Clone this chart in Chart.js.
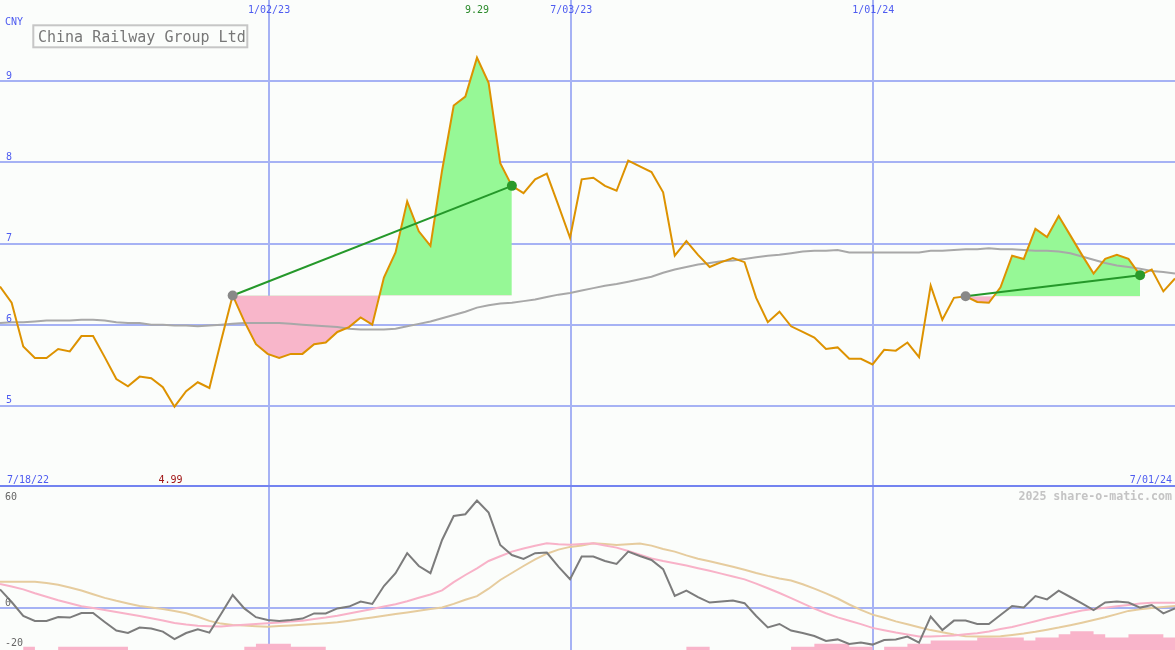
<!DOCTYPE html>
<html><head><meta charset="utf-8">
<script src="https://cdn.jsdelivr.net/npm/chart.js@4.4.1/dist/chart.umd.min.js"></script>
<style>
html,body{margin:0;padding:0;background:#fbfdfb;}
#wrap{position:relative;width:1175px;height:650px;overflow:hidden;background:#fbfdfb;}
#c1{position:absolute;left:0;top:0;}
#c2{position:absolute;left:0;top:487px;}
</style></head><body>
<div id="wrap"><canvas id="c1" width="1175" height="487"></canvas><canvas id="c2" width="1175" height="163"></canvas></div>
<script>
// ---------- data ----------
const titleText = 'China Railway Group Ltd';
const currency = 'CNY';
const startLabel = '7/18/22';
const endLabel = '7/01/24';
const watermark = '2025 share-o-matic.com';
const dateTickLabels = ['1/02/23', '7/03/23', '1/01/24'];
const dateTickWeeks = [23.13, 49.1, 75.06];
const priceTicks = [5, 6, 7, 8, 9];
const oscTicks = [60, 0, -20];

// weekly closes (CNY)
const price = [6.47,6.27,5.73,5.59,5.59,5.70,5.67,5.86,5.86,5.60,
  5.33,5.24,5.36,5.34,5.23,4.99,5.18,5.29,5.22,5.80,
  6.36,6.04,5.76,5.64,5.59,5.64,5.64,5.76,5.78,5.91,
  5.97,6.09,6.00,6.58,6.89,7.52,7.15,6.97,7.90,8.70,
  8.81,9.29,8.98,7.99,7.71,7.62,7.79,7.86,7.47,7.07,
  7.79,7.81,7.71,7.65,8.02,7.95,7.88,7.63,6.85,7.03,
  6.86,6.71,6.77,6.82,6.77,6.33,6.03,6.16,5.98,5.91,
  5.84,5.70,5.72,5.58,5.58,5.51,5.69,5.68,5.78,5.60,
  6.48,6.06,6.33,6.35,6.28,6.27,6.46,6.85,6.81,7.18,
  7.08,7.34,7.10,6.86,6.63,6.81,6.86,6.81,6.61,6.68,
  6.41,6.57];

// moving average (grey)
const movingAvg = [6.02,6.03,6.03,6.04,6.05,6.05,6.05,6.06,6.06,6.05,
  6.03,6.02,6.02,6.00,6.00,5.99,5.99,5.98,5.99,6.00,
  6.01,6.02,6.02,6.02,6.02,6.01,6.00,5.99,5.98,5.97,
  5.95,5.94,5.94,5.94,5.95,5.98,6.01,6.04,6.08,6.12,
  6.16,6.21,6.24,6.26,6.27,6.29,6.31,6.34,6.37,6.39,
  6.42,6.45,6.48,6.50,6.53,6.56,6.59,6.64,6.68,6.71,
  6.74,6.76,6.78,6.79,6.81,6.83,6.85,6.86,6.88,6.90,
  6.91,6.91,6.92,6.89,6.89,6.89,6.89,6.89,6.89,6.89,
  6.91,6.91,6.92,6.93,6.93,6.94,6.93,6.93,6.92,6.91,
  6.91,6.90,6.88,6.84,6.80,6.76,6.73,6.71,6.69,6.66,
  6.65,6.63];

// lower panel oscillator (dark grey)
const oscillator = [9.3,3,-4,-6.5,-6.5,-4.5,-4.8,-2.5,-2.5,-7,
  -11.3,-12.5,-9.8,-10.3,-11.8,-15.6,-12.5,-10.6,-12.3,-3,
  6.5,-0.2,-4.6,-6,-6.5,-6,-5.3,-2.7,-2.7,-0.2,
  0.7,3.2,2,11,17.4,27.4,21,17.4,34,46,
  46.9,53.7,47.7,31.5,26.5,24.5,27.4,27.7,20.7,14.4,
  25.7,25.7,23.5,22,28.2,26,24,19.4,6,8.7,
  5.4,2.7,3.2,3.7,2.4,-4,-9.7,-8,-11.3,-12.5,
  -14,-16.5,-15.7,-18,-17.3,-18.3,-16,-15.7,-14.3,-17.3,
  -4.3,-11,-6.3,-6.3,-8,-8,-3.5,1,0.3,6,
  4.3,8.7,5.5,2.3,-1,2.8,3.2,2.7,0.2,1.5,
  -2.7,-0.2];

// fast signal (pink)
const oscFast = [12,10.75,9.3,7.35,5.6,3.9,2.35,0.9,-0.05,-1.05,
  -2.05,-2.95,-4,-5.1,-6.3,-7.45,-8.3,-8.9,-9.15,-9.3,
  -8.8,-8.35,-8,-7.65,-7.25,-6.8,-6.35,-5.55,-4.8,-3.9,
  -2.75,-1.6,-0.45,0.75,1.9,3.35,5.1,6.75,8.8,12.9,
  16.5,19.85,23.5,25.85,28.2,29.75,31.1,32.35,31.85,31.6,
  32,32.35,31.3,30.2,28.5,26.6,24.75,23.45,22.35,21.2,
  19.9,18.6,17.2,15.75,14.3,12.2,9.85,7.5,4.9,2.3,
  -0.3,-2.65,-4.7,-6.4,-8.05,-9.95,-11.1,-12.25,-13.25,-14.25,
  -14.25,-14.05,-13.7,-13.15,-12.65,-11.7,-10.55,-9.45,-8.05,-6.6,
  -5.15,-3.85,-2.5,-1.25,-0.55,0.15,0.85,1.55,2.25,2.65,
  2.65,2.65];

// slow signal (tan)
const oscSlow = [13.15,13.15,13.15,13.15,12.45,11.65,10.25,8.75,6.85,5.05,
  3.6,2.3,1.05,0.3,-0.55,-1.45,-2.65,-4.4,-6.45,-7.8,
  -8.5,-8.75,-9.1,-9.35,-9.05,-8.75,-8.4,-8,-7.6,-7.1,
  -6.35,-5.5,-4.7,-3.85,-3,-2.2,-1.35,-0.55,0.25,2.05,
  4.15,5.95,9.65,14,17.5,21,24.35,27.15,29.2,30.55,
  31.25,32.35,31.95,31.5,31.9,32.25,31.2,29.5,28.2,26.3,
  24.65,23.35,22.05,20.65,19.1,17.5,16.05,14.8,13.75,11.85,
  9.7,7.35,4.75,1.75,-0.9,-3.3,-4.85,-6.7,-8.1,-9.6,
  -11.05,-12.15,-13.25,-14.15,-14.2,-14.3,-14.15,-13.45,-12.75,-11.9,
  -10.85,-9.8,-8.6,-7.35,-6.05,-4.65,-3.05,-1.45,-0.6,-0.05,
  0.45,0.95];

// volume blocks (relative units)
const volume = [0,0,1,0,0,1,1,1,1,1,
  1,0,0,0,0,0,0,0,0,0,
  0,1,2,2,2,1,1,1,0,0,
  0,0,0,0,0,0,0,0,0,0,
  0,0,0,0,0,0,0,0,0,0,
  0,0,0,0,0,0,0,0,0,1,
  1,0,0,0,0,0,0,0,1,1,
  2,2,2,1,1,0,1,1,2,2,
  3,3,3,3,4,4,4,4,3,4,
  4,5,6,6,5,4,4,5,5,5,
  4,4];

// trend segments (week index from / to)
const trendFrom = [20, 83];
const trendTo = [44, 98];

// ---------- helpers ----------
const BG = '#fbfdfb';
const GRID = '#a6b2f4';
const BLUE_TXT = '#4e5cf0';
const MONO = '"DejaVu Sans Mono", "Liberation Mono", monospace';
const pts = arr => arr.map((v, i) => ({x: i, y: v}));
const seg = (from, to) => price.map((v, i) => ({x: i, y: (i >= from && i <= to) ? v : null}));

const xScale = {
  type: 'linear', min: 0, max: price.length - 1,
  afterBuildTicks: s => { s.ticks = dateTickWeeks.map(v => ({value: v})); },
  grid: {color: GRID, lineWidth: 2, drawTicks: false},
  ticks: {display: false}, border: {display: false}
};

const topLabels = {
  id: 'topLabels',
  afterDraw(chart) {
    const ctx = chart.ctx, xs = chart.scales.x, ys = chart.scales.y;
    ctx.save();
    // separator
    ctx.strokeStyle = '#7383f0'; ctx.lineWidth = 2;
    ctx.beginPath(); ctx.moveTo(0, chart.chartArea.bottom - 1); ctx.lineTo(chart.width, chart.chartArea.bottom - 1); ctx.stroke();
    ctx.font = '10px ' + MONO;
    ctx.textBaseline = 'alphabetic';
    ctx.fillStyle = BLUE_TXT; ctx.textAlign = 'left';
    ctx.fillText(currency, 5, 24.5);
    priceTicks.forEach(v => ctx.fillText(String(v), 6, ys.getPixelForValue(v) - 2.5));
    ctx.textAlign = 'center';
    dateTickLabels.forEach((t, i) => ctx.fillText(t, xs.getPixelForValue(dateTickWeeks[i]), 13));
    ctx.textAlign = 'left'; ctx.fillText(startLabel, 7, 483);
    ctx.textAlign = 'right'; ctx.fillText(endLabel, 1172, 483);
    // max / min
    const maxV = Math.max(...price), minV = Math.min(...price);
    ctx.textAlign = 'center';
    ctx.fillStyle = '#2a8a2a';
    ctx.fillText(maxV.toFixed(2), xs.getPixelForValue(price.indexOf(maxV)), 13);
    ctx.fillStyle = '#a01414';
    ctx.fillText(minV.toFixed(2), xs.getPixelForValue(price.indexOf(minV)) - 4, 483);
    // title box
    ctx.fillStyle = BG; ctx.fillRect(33, 25, 214, 22);
    ctx.strokeStyle = '#c6c6c6'; ctx.lineWidth = 2;
    ctx.strokeRect(33.3, 25.3, 214, 22);
    ctx.fillStyle = '#777777'; ctx.textAlign = 'left';
    ctx.font = '15px ' + MONO;
    ctx.fillText(titleText, 38, 41.5);
    ctx.restore();
  }
};

const bottomLabels = {
  id: 'bottomLabels',
  afterDraw(chart) {
    const ctx = chart.ctx, ys = chart.scales.y;
    ctx.save();
    ctx.font = '10px ' + MONO; ctx.fillStyle = '#666666'; ctx.textAlign = 'left';
    oscTicks.forEach(v => {
      const p = ys.getPixelForValue(v);
      ctx.fillText(String(v), 5, v === oscTicks[0] ? p + 12 : p - 2);
    });
    ctx.font = 'bold 11.6px ' + MONO; ctx.fillStyle = '#c4c4c4'; ctx.textAlign = 'right';
    ctx.fillText(watermark, 1172, 13);
    ctx.restore();
  }
};

const common = {
  responsive: false, animation: false, events: [],
  layout: {padding: 0, autoPadding: false},
  plugins: {legend: {display: false}, tooltip: {enabled: false}},
  elements: {point: {radius: 0}, line: {tension: 0}}
};

const trendSets = [];
trendFrom.forEach((f, i) => {
  const t = trendTo[i];
  trendSets.push({
    data: [{x: f, y: price[f]}, {x: t, y: price[t]}],
    borderColor: '#25982a', borderWidth: 2,
    pointRadius: 5, pointBorderWidth: 0,
    pointBackgroundColor: ['#888888', '#2a9a2a'], order: 0
  });
  trendSets.push({
    data: seg(f, t), borderColor: 'rgba(0,0,0,0)', borderWidth: 1, pointRadius: 0,
    spanGaps: false,
    fill: {target: {value: price[f]}, above: '#96f896', below: '#f8b6ca'},
    order: 9
  });
});

new Chart(document.getElementById('c1'), {
  type: 'line',
  data: {datasets: [
    ...trendSets,
    {data: pts(price), borderColor: '#dd9200', borderWidth: 2, pointRadius: 0, order: 2},
    {data: pts(movingAvg), borderColor: '#a8a8a8', borderWidth: 2, pointRadius: 0, order: 3}
  ]},
  options: Object.assign({}, common, {
    scales: {
      x: xScale,
      y: {min: 4, max: 10,
        afterBuildTicks: s => { s.ticks = priceTicks.map(v => ({value: v})); },
        grid: {color: GRID, lineWidth: 2, drawTicks: false},
        ticks: {display: false}, border: {display: false}}
    }
  }),
  plugins: [topLabels]
});

new Chart(document.getElementById('c2'), {
  type: 'line',
  data: {datasets: [
    {data: pts(oscillator), borderColor: '#7c7c7c', borderWidth: 2, pointRadius: 0, order: 0},
    {data: pts(oscFast), borderColor: '#f8b2c8', borderWidth: 2, pointRadius: 0, order: 1},
    {data: pts(oscSlow), borderColor: '#e6cc9e', borderWidth: 2, pointRadius: 0, order: 2},
    {data: pts(volume), yAxisID: 'yv', stepped: 'before', borderColor: 'rgba(0,0,0,0)', borderWidth: 1,
      pointRadius: 0, fill: 'origin', backgroundColor: '#f9b4ca', order: 5}
  ]},
  options: Object.assign({}, common, {
    scales: {
      x: xScale,
      y: {min: -21, max: 60.5,
        afterBuildTicks: s => { s.ticks = [{value: 0}]; },
        grid: {color: GRID, lineWidth: 2, drawTicks: false},
        ticks: {display: false}, border: {display: false}},
      yv: {min: 0, max: 52, display: false}
    }
  }),
  plugins: [bottomLabels]
});
</script>
</body></html>
